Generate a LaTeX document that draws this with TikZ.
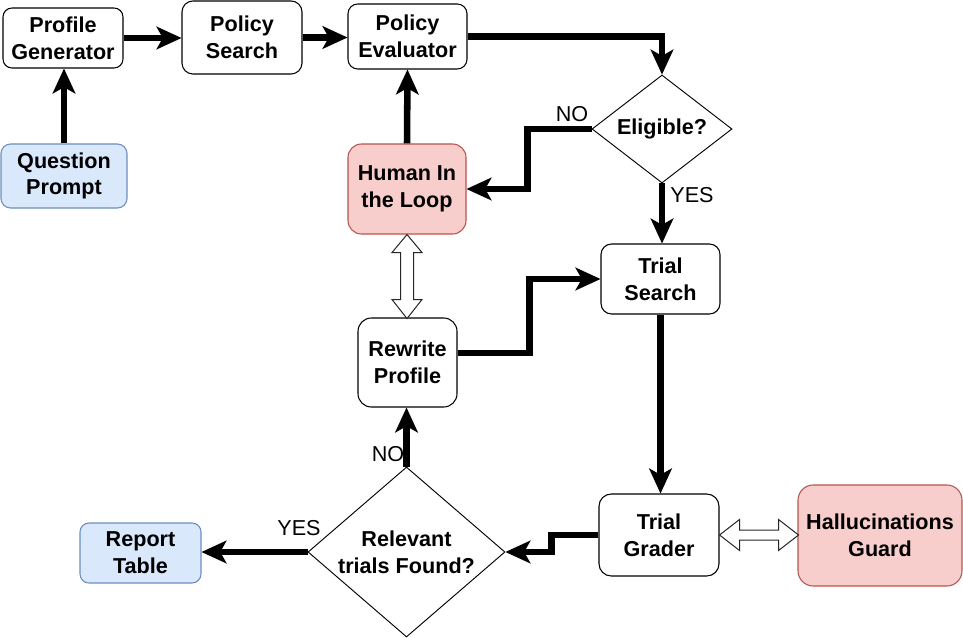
\documentclass[tikz,border=0pt]{standalone}
\usepackage{fontspec}
\setmainfont{Liberation Sans}
\usetikzlibrary{arrows.meta,shapes.geometric,calc}
\definecolor{bluefill}{HTML}{DAE8FC}
\definecolor{bluedraw}{HTML}{6C8EBF}
\definecolor{redfill}{HTML}{F8CECC}
\definecolor{reddraw}{HTML}{B85450}
\begin{document}
\begin{tikzpicture}[x=0.75pt,y=-0.75pt,
  base/.style={font=\fontsize{16.2}{20}\selectfont\bfseries, align=center, inner sep=0pt, line width=0.8pt},
  box/.style n args={3}{base, draw=black, fill=white, rectangle, minimum width=#1pt, minimum height=#2pt, rounded corners=#3pt},
  bluebox/.style={fill=bluefill, draw=bluedraw},
  redbox/.style={fill=redfill, draw=reddraw},
  dec/.style n args={3}{base, draw=black, fill=white, line width=0.7pt, diamond, minimum width=#1pt, minimum height=#2pt, aspect=#3},
  flow/.style={line width=4.9pt, -{Stealth[length=19pt, width=17.5pt, inset=5pt, line width=0pt]}},
  lab/.style={font=\fontsize{16.2}{20}\selectfont, inner sep=0pt},
  hollow/.style={draw=black!85, line width=0.75pt, fill=white, line join=miter}]
\useasboundingbox[fill=white] (0,0) rectangle (963,638);
% nodes
\node[box={90}{45}{6.75}] (pg) at (63,38) {Profile\\Generator};
\node[box={90}{54.75}{8.2}] (ps) at (242,37.5) {Policy\\Search};
\node[box={89.25}{48.75}{7.3}] (pe) at (407.5,36.5) {Policy\\Evaluator};
\node[box={94.5}{48}{7.2}, bluebox] (qp) at (64,176) {Question\\Prompt};
\node[box={88.5}{67.5}{10.1}, redbox] (hil) at (407,189) {Human In\\the Loop};
\node[dec={105}{81}{1.3}] (el) at (662,129) {Eligible?};
\node[box={89.25}{52.5}{7.9}] (ts) at (660.5,279) {Trial\\Search};
\node[box={74.25}{66.75}{10}] (rp) at (407.5,362.5) {Rewrite\\Profile};
\node[box={90}{61.5}{9.2}] (tg) at (659,535) {Trial\\Grader};
\node[box={123}{75.75}{11.4}, redbox] (hg) at (880,535.5) {Hallucinations\\Guard};
\node[box={90.75}{45}{6.75}, bluebox] (rt) at (140.5,553) {Report\\Table};
\node[dec={147.75}{127.5}{1.16}] (rf) at (406.5,552) {Relevant\\trials Found?};
% connectors
\draw[flow] (qp.north) -- (qp.north |- pg.south);
\draw[flow] (pg.east) -- (ps.west |- pg.east);
\draw[flow] (ps.east) -- (pe.west |- ps.east);
\draw[flow] (pe.east) -| (el.north);
\draw[flow] (el.west) -- ++(-64,0) |- (hil.east);
\draw[flow] (hil.north) -- (pe.south);
\draw[flow] (el.south) -- (el.south |- ts.north);
\draw[flow] ([yshift=7.1pt]rp.east) -- ++(72,0) |- (ts.west);
\draw[flow] (ts.south) -- (ts.south |- tg.north);
\draw[flow] (tg.west) -- ++(-47,0) |- (rf.east);
\draw[flow] (rf.north) -- (rf.north |- rp.south);
\draw[flow] (rf.west) -- (rt.east |- rf.west);
% labels
\node[lab] (no1) at (572,114.5) {NO};
\node[lab] (yes1) at (692,195.5) {YES};
\node[lab] (no2) at (388,454.5) {NO};
\node[lab] (yes2) at (299,528) {YES};
% hollow double arrows
\draw[hollow] (hil.south) -- ++(15,18) -- ++(-8.5,0) -- ++(0,47) -- ++(8.5,0) -- ++(-15,19) -- ++(-15,-19) -- ++(8.5,0) -- ++(0,-47) -- ++(-8.5,0) -- cycle;
\draw[hollow] (tg.east) -- ++(20,-15.5) -- ++(0,10.5) -- ++(39,0) -- ++(0,-10.5) -- ++(20,15.5) -- ++(-20,15.5) -- ++(0,-10.5) -- ++(-39,0) -- ++(0,10.5) -- cycle;
\end{tikzpicture}
\end{document}
